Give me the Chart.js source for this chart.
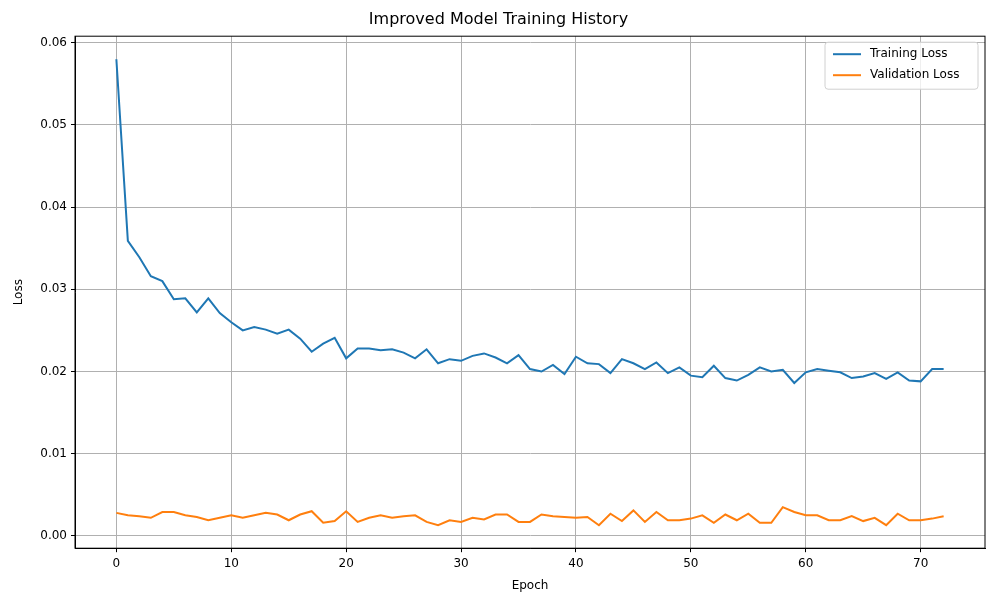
<!DOCTYPE html>
<html><head><meta charset="utf-8">
<script src="https://cdn.jsdelivr.net/npm/chart.js@4"></script>
<style>html,body{margin:0;padding:0;background:#fff}#w{width:1000px;height:600px}</style>
</head><body><div id="w"><canvas id="c"></canvas></div>
<script>
const trainLoss=[.0580,.0359,.0339,.0316,.0310,.0288,.0289,.0272,.0289,.0271,.0260,.0250,.0254,.0251,.0246,.0251,.0240,.0224,.0234,.0241,.0216,.0228,.0228,.0226,.0227,.0223,.0216,.0227,.0210,.0215,.0213,.0219,.0222,.0217,.0210,.0220,.0203,.0200,.0208,.0197,.0218,.0210,.0209,.0198,.0215,.0210,.0203,.0211,.0198,.0205,.0195,.0193,.0207,.0192,.0189,.0196,.0205,.0200,.0202,.0186,.0199,.0203,.0201,.0199,.0192,.0194,.0198,.0191,.0199,.0189,.0188,.0203,.0203];
const valLoss=[.0028,.0025,.0024,.0022,.0029,.0029,.0025,.0023,.0019,.0022,.0025,.0022,.0025,.0028,.0026,.0019,.0026,.0030,.0016,.0018,.0030,.0017,.0022,.0025,.0022,.0024,.0025,.0017,.0013,.0019,.0017,.0022,.0020,.0026,.0026,.0017,.0017,.0026,.0024,.0023,.0022,.0023,.0013,.0027,.0018,.0031,.0017,.0029,.0019,.0019,.0021,.0025,.0016,.0026,.0019,.0027,.0016,.0016,.0035,.0029,.0025,.0025,.0019,.0019,.0024,.0018,.0022,.0013,.0027,.0019,.0019,.0021,.0024];
const epochs=trainLoss.map((_,i)=>i);
const xTicks=[0,10,20,30,40,50,60,70];
const yTicks=[0,0.01,0.02,0.03,0.04,0.05,0.06];
Chart.defaults.font.family="'DejaVu Sans'";
Chart.defaults.color='#000';
const pts=a=>a.map((v,i)=>({x:epochs[i],y:v}));
new Chart(document.getElementById('c'),{type:'line',
data:{datasets:[
{label:'Training Loss',data:pts(trainLoss),borderColor:'#1f77b4',backgroundColor:'#1f77b4',borderWidth:2,pointRadius:0,tension:0},
{label:'Validation Loss',data:pts(valLoss),borderColor:'#ff7f0e',backgroundColor:'#ff7f0e',borderWidth:2,pointRadius:0,tension:0}]},
options:{responsive:true,maintainAspectRatio:false,animation:false,
layout:{padding:{left:12,right:15,top:0,bottom:3}},
plugins:{title:{display:true,text:'Improved Model Training History',font:{size:16,weight:'normal'},padding:{top:10,bottom:7}},
legend:{display:false},tooltip:{enabled:false}},
scales:{
x:{type:'linear',min:-3.6,max:75.6,afterBuildTicks:a=>{a.ticks=xTicks.map(v=>({value:v}))},
ticks:{font:{size:12},maxRotation:0,padding:4},grid:{color:'#b0b0b0',drawTicks:true,tickLength:4,tickColor:'#000'},border:{color:'#000'},
title:{display:true,text:'Epoch',font:{size:12},padding:{top:4}}},
y:{min:-0.0015,max:0.0608,afterBuildTicks:a=>{a.ticks=yTicks.map(v=>({value:v}))},afterFit:a=>{a.width=63},
ticks:{font:{size:12},padding:4,callback:v=>v.toFixed(2)},grid:{color:'#b0b0b0',tickLength:4,tickColor:'#000'},border:{color:'#000'},
title:{display:true,text:'Loss',font:{size:12},padding:0}}}},
plugins:[{id:'box',afterDraw(c){const {ctx,chartArea:a}=c;ctx.save();ctx.strokeStyle='#000';ctx.lineWidth=1;ctx.strokeRect(a.left,a.top,a.right-a.left,a.bottom-a.top);
const x=a.right-160,y=a.top+6;ctx.fillStyle='rgba(255,255,255,0.8)';ctx.strokeStyle='#d0d0d0';ctx.beginPath();ctx.roundRect(x,y,153,47,3);ctx.fill();ctx.stroke();
ctx.font="12px 'DejaVu Sans'";ctx.textBaseline='middle';
[['Training Loss','#1f77b4'],['Validation Loss','#ff7f0e']].forEach((l,i)=>{const yy=y+12+i*21;ctx.strokeStyle=l[1];ctx.lineWidth=2;ctx.beginPath();ctx.moveTo(x+8,yy);ctx.lineTo(x+36,yy);ctx.stroke();ctx.fillStyle='#000';ctx.fillText(l[0],x+45,yy);});
ctx.restore();}}]});
</script></body></html>
